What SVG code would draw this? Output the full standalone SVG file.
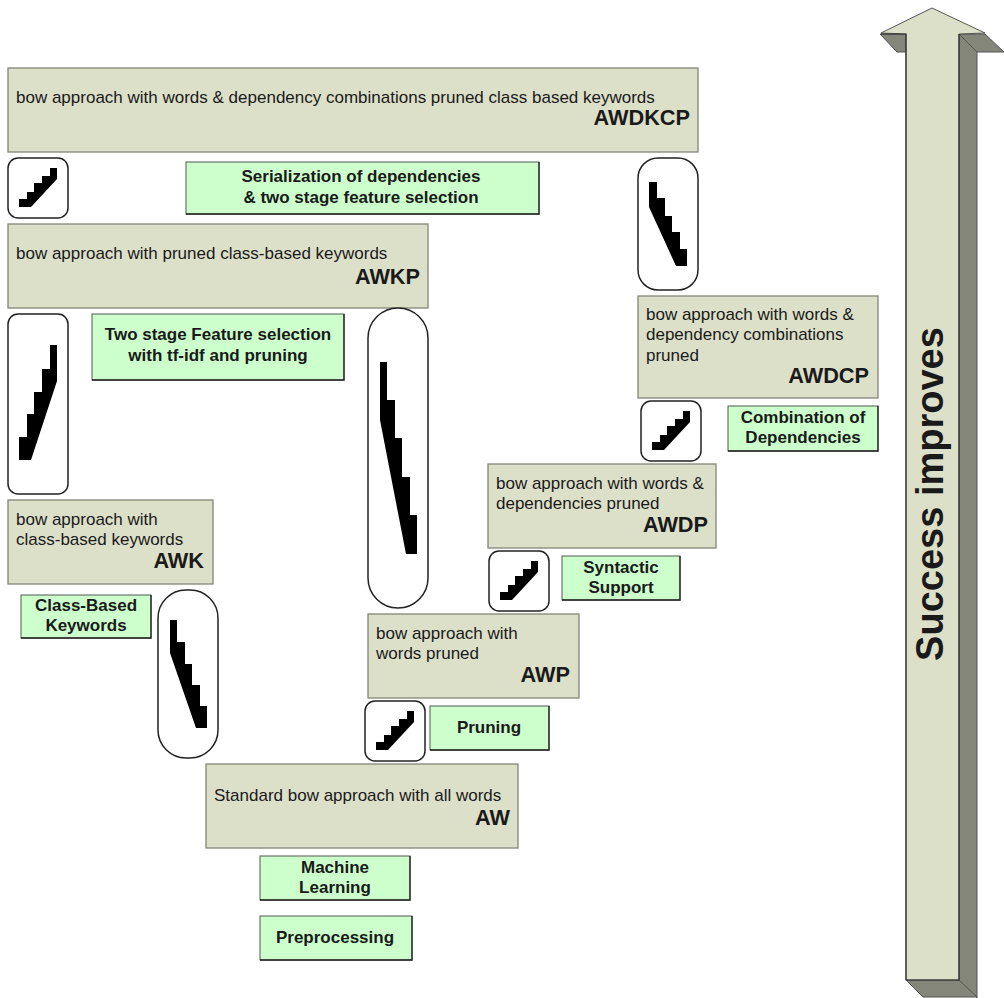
<svg xmlns="http://www.w3.org/2000/svg" width="1004" height="998" viewBox="0 0 1004 998">
<style>
text{font-family:"Liberation Sans",Arial,sans-serif;fill:#1a1a1a}
.b{fill:#dde0c9;stroke:#858579;stroke-width:1.3}
.g{fill:#ccffcc;stroke:#4f5a4f;stroke-width:1}
.gs{fill:none;stroke:#222;stroke-width:1.3}
.t{font-size:17px}
.c{font-size:21.7px;font-weight:bold;text-anchor:end}
.l{font-size:17px;font-weight:bold;text-anchor:middle}
.p{fill:#fff;stroke:#222;stroke-width:1.5}
.s{fill:#000}
.d{fill:#84867a;stroke:#555;stroke-width:1}
</style>
<defs>
<polygon id="stair" class="s" points="19,207 19,199 27,199 27,192 34,192 34,183 42,183 42,176 50,176 50,168 57,168 57,179 31,207"/>
</defs>
<rect width="1004" height="998" fill="#fff"/>
<g id="arrow">
<polygon class="d" points="880,34 906,34 906,52 897,52" />
<polygon class="d" points="959,34 985,34 1004,52 977,52" />
<polygon class="d" points="959,34 977,52 977,998 959,980"/>
<polygon class="d" points="906,980 959,980 977,997 923,997"/>
<polygon points="881,33 932,8 985,33 959,34 959,980 906,980 906,34" fill="#dde0c9" stroke="#555" stroke-width="1"/>
<path d="M881,34H906V980H959V34" fill="none" stroke="#333" stroke-width="1.2"/>
<text transform="translate(943,494) rotate(-90)" text-anchor="middle" style="font-size:38px;font-weight:bold">Success improves</text>
</g>
<g id="AWDKCP"><rect class="b" x="8" y="68" width="690" height="84"/><text class="t" x="16" y="103">bow approach with words &amp; dependency combinations pruned class based keywords</text><text class="c" x="690" y="125">AWDKCP</text></g>
<g id="AWKP"><rect class="b" x="8" y="224" width="420" height="84"/><text class="t" x="16" y="259">bow approach with pruned class-based keywords</text><text class="c" x="420" y="284">AWKP</text></g>
<g id="AWDCP"><rect class="b" x="638" y="296" width="240" height="102"/><text class="t" x="646" y="320">bow approach with words &amp;</text><text class="t" x="646" y="340">dependency combinations</text><text class="t" x="646" y="361">pruned</text><text class="c" x="869" y="383">AWDCP</text></g>
<g id="AWDP"><rect class="b" x="488" y="464" width="228" height="84"/><text class="t" x="496" y="489">bow approach with words &amp;</text><text class="t" x="496" y="509">dependencies pruned</text><text class="c" x="708" y="532">AWDP</text></g>
<g id="AWK"><rect class="b" x="8" y="500" width="205" height="84"/><text class="t" x="16" y="525">bow approach with</text><text class="t" x="16" y="545">class-based keywords</text><text class="c" x="204" y="568">AWK</text></g>
<g id="AWP"><rect class="b" x="368" y="614" width="211" height="84"/><text class="t" x="376" y="639">bow approach with</text><text class="t" x="376" y="659">words pruned</text><text class="c" x="570" y="682">AWP</text></g>
<g id="AW"><rect class="b" x="206" y="764" width="312" height="84"/><text class="t" x="214" y="801">Standard bow approach with all words</text><text class="c" x="510" y="825">AW</text></g>
<g id="l-serial"><rect class="g" x="186" y="162" width="353" height="52"/><path class="gs" d="M539,162V214H186"/><text class="l" x="361" y="182">Serialization of dependencies</text><text class="l" x="361" y="203">&amp; two stage feature selection</text></g>
<g id="l-twostage"><rect class="g" x="92" y="314" width="252" height="66"/><path class="gs" d="M344,314V380H92"/><text class="l" x="218" y="340">Two stage Feature selection</text><text class="l" x="218" y="361">with tf-idf and pruning</text></g>
<g id="l-comb"><rect class="g" x="728" y="406" width="150" height="45"/><path class="gs" d="M878,406V451H728"/><text class="l" x="803" y="423">Combination of</text><text class="l" x="803" y="443">Dependencies</text></g>
<g id="l-syn"><rect class="g" x="562" y="556" width="118" height="44"/><path class="gs" d="M680,556V600H562"/><text class="l" x="621" y="573">Syntactic</text><text class="l" x="621" y="593">Support</text></g>
<g id="l-class"><rect class="g" x="21" y="595" width="130" height="43"/><path class="gs" d="M151,595V638H21"/><text class="l" x="86" y="611">Class-Based</text><text class="l" x="86" y="631">Keywords</text></g>
<g id="l-prune"><rect class="g" x="430" y="706" width="119" height="44"/><path class="gs" d="M549,706V750H430"/><text class="l" x="489" y="733">Pruning</text></g>
<g id="l-ml"><rect class="g" x="260" y="856" width="150" height="44"/><path class="gs" d="M410,856V900H260"/><text class="l" x="335" y="873">Machine</text><text class="l" x="335" y="893">Learning</text></g>
<g id="l-pre"><rect class="g" x="260" y="916" width="152" height="44"/><path class="gs" d="M412,916V960H260"/><text class="l" x="335" y="943">Preprocessing</text></g>
<g id="connectors">
<rect class="p" x="8" y="158" width="60" height="60" rx="10"/>
<use href="#stair"/>
<rect class="p" x="638" y="158" width="60" height="132" rx="20"/>
<polygon class="s" points="649,182 657,182 657,198 665,198 665,216 672,216 672,232 680,232 680,249 687,249 687,266 676,266 649,207"/>
<rect class="p" x="8" y="314" width="60" height="180" rx="10"/>
<polygon class="s" points="19,460 19,437 27,437 27,414 34,414 34,392 42,392 42,369 50,369 50,345 57,345 57,381 31,460"/>
<rect class="p" x="368" y="308" width="60" height="300" rx="30"/>
<polygon class="s" points="380,362 387,362 387,400 395,400 395,438 402,438 402,477 410,477 410,515 417,515 417,554 406,554 380,420"/>
<rect class="p" x="158" y="590" width="60" height="168" rx="28"/>
<polygon class="s" points="170,620 177,620 177,642 185,642 185,664 192,664 192,685 200,685 200,706 207,706 207,728 196,728 170,653"/>
<rect class="p" x="641" y="401" width="60" height="60" rx="10"/>
<use href="#stair" x="633" y="243"/>
<rect class="p" x="489" y="551" width="60" height="60" rx="10"/>
<use href="#stair" x="481" y="393"/>
<rect class="p" x="365" y="701" width="60" height="60" rx="10"/>
<use href="#stair" x="357" y="543"/>
</g>
</svg>
